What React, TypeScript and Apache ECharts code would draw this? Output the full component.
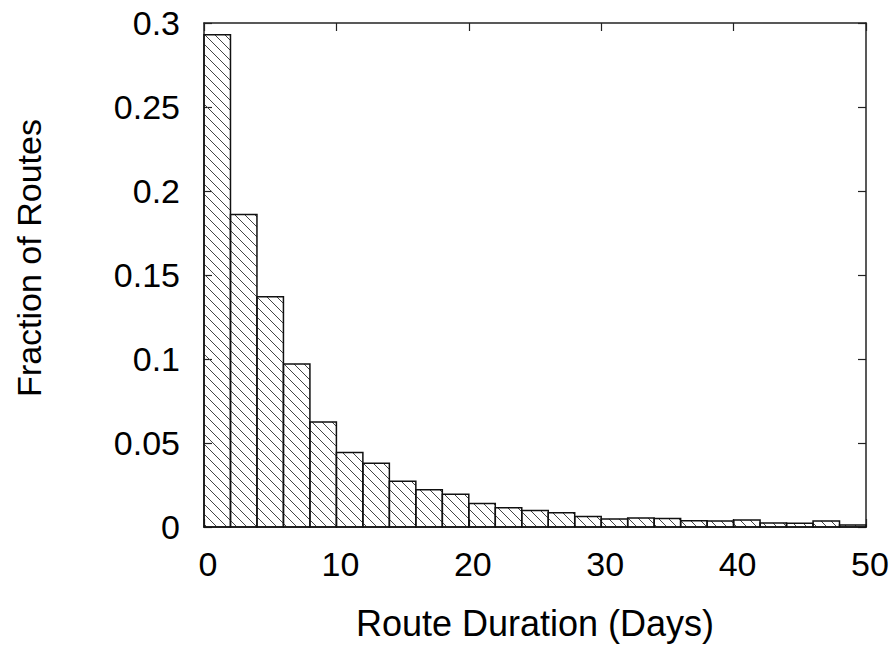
import React, { useEffect, useRef } from "react";
import * as echarts from "echarts";

// Histogram bins (days) and fraction of routes per bin
const binStarts = [0, 2, 4, 6, 8, 10, 12, 14, 16, 18, 20, 22, 24, 26, 28, 30, 32, 34, 36, 38, 40, 42, 44, 46, 48];
const binEnds = [2, 4, 6, 8, 10, 12, 14, 16, 18, 20, 22, 24, 26, 28, 30, 32, 34, 36, 38, 40, 42, 44, 46, 48, 50];
const fractions = [
  0.293, 0.186, 0.137, 0.097, 0.0625, 0.0443, 0.038, 0.0272, 0.0222, 0.0195,
  0.014, 0.0115, 0.0098, 0.0085, 0.0063, 0.0048, 0.0054, 0.005, 0.0037, 0.0035,
  0.0041, 0.0024, 0.0022, 0.0035, 0.0012,
];
const xTitle = "Route Duration (Days)";
const yTitle = "Fraction of Routes";

const FONT = "'Liberation Sans', Arial, Helvetica, sans-serif";
const HATCH = 10;

export default function App() {
  const ref = useRef<HTMLDivElement>(null);
  useEffect(() => {
    if (!ref.current) return;
    const chart = echarts.init(ref.current, null, { renderer: "svg" });
    const data = fractions.map((v, i) => [binStarts[i], binEnds[i], v]);
    const axisLine = { show: true, onZero: false, lineStyle: { color: "#222", width: 1.5 } };
    const tick = { show: true, inside: true, length: 8, lineStyle: { color: "#222", width: 1.2 } };
    chart.setOption({
      animation: false,
      backgroundColor: "#fff",
      grid: { left: 204, right: 28, top: 23, bottom: 115, containLabel: false },
      xAxis: [
        {
          type: "value",
          min: 0,
          max: 50,
          interval: 10,
          position: "bottom",
          axisLine,
          axisTick: tick,
          splitLine: { show: false },
          axisLabel: { fontFamily: FONT, fontSize: 34, color: "#000", margin: 20, padding: [0, 0, 0, 8] },
          name: xTitle,
          nameLocation: "middle",
          nameGap: 78,
          nameTextStyle: { fontFamily: FONT, fontSize: 36, color: "#000" },
        },
        {
          type: "value",
          min: 0,
          max: 50,
          interval: 10,
          position: "top",
          axisLine,
          axisTick: tick,
          splitLine: { show: false },
          axisLabel: { show: false },
        },
      ],
      yAxis: [
        {
          type: "value",
          min: 0,
          max: 0.3,
          interval: 0.05,
          position: "left",
          axisLine,
          axisTick: tick,
          splitLine: { show: false },
          axisLabel: { fontFamily: FONT, fontSize: 34, color: "#000", margin: 24 },
        },
        {
          type: "value",
          min: 0,
          max: 0.3,
          interval: 0.05,
          position: "right",
          axisLine,
          axisTick: tick,
          splitLine: { show: false },
          axisLabel: { show: false },
        },
      ],
      graphic: [
        {
          type: "text",
          x: 29,
          y: 258,
          rotation: Math.PI / 2,
          style: {
            text: yTitle,
            fontFamily: FONT,
            fontSize: 34,
            fill: "#000",
            align: "center",
            verticalAlign: "middle",
          },
        },
      ],
      series: [
        {
          type: "custom",
          xAxisIndex: 0,
          yAxisIndex: 0,
          encode: { x: [0, 1], y: 2 },
          data,
          renderItem: (params: any, api: any) => {
            const x0 = api.value(0);
            const x1 = api.value(1);
            const v = api.value(2);
            const p0 = api.coord([x0, v]);
            const p1 = api.coord([x1, 0]);
            const left = p0[0];
            const right = p1[0];
            const top = p0[1];
            const bottom = p1[1];
            const children: any[] = [];
            const cStart = Math.ceil((top - right) / HATCH) * HATCH;
            for (let c = cStart; c <= bottom - left; c += HATCH) {
              const xa = Math.max(left, top - c);
              const xb = Math.min(right, bottom - c);
              if (xb > xa + 0.5) {
                children.push({
                  type: "line",
                  shape: { x1: xa, y1: xa + c, x2: xb, y2: xb + c },
                  style: { stroke: "#444", lineWidth: 1 },
                });
              }
            }
            children.push({
              type: "rect",
              shape: { x: left, y: top, width: right - left, height: bottom - top },
              style: { fill: "none", stroke: "#111", lineWidth: 1.5 },
            });
            return { type: "group", children };
          },
        },
      ],
    });
    return () => chart.dispose();
  }, []);
  return (
    <div
      ref={ref}
      style={{ position: "fixed", left: 0, top: 0, width: 894, height: 646, background: "#fff" }}
    />
  );
}
